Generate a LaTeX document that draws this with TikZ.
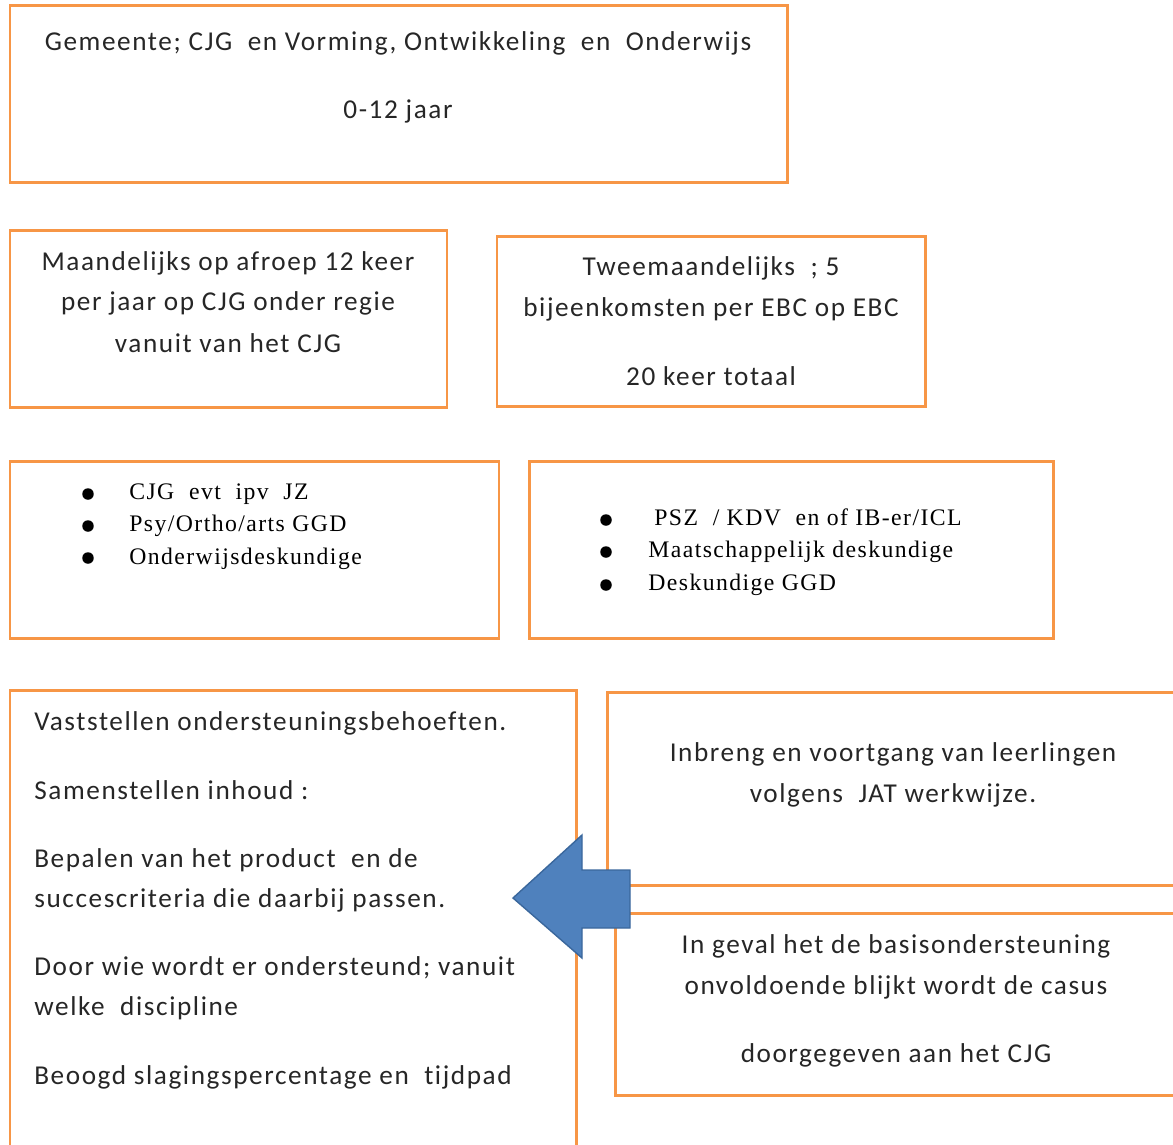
\documentclass[tikz,border=0pt]{standalone}
\usepackage{fontspec}
\setmainfont[LetterSpace=5.8,Ligatures=NoCommon]{Carlito}
\newfontfamily\opsomfont[LetterSpace=6]{Liberation Serif}
\definecolor{oranje}{HTML}{F79646}
\definecolor{pijlblauw}{HTML}{4F81BD}
\definecolor{pijlrand}{HTML}{3A679C}
\begin{document}
\begin{tikzpicture}[x=0.02cm,y=-0.02cm,
        kader/.style={draw=oranje,line width=1.7pt},
        regel/.style={anchor=mid,inner sep=0pt,text=black!85,font=\fontsize{15.5}{18}\selectfont},
        regellinks/.style={regel,anchor=mid west},
        opsom/.style={anchor=mid west,inner sep=0pt,font=\opsomfont\fontsize{13.5}{16}\selectfont},
        stip/.style={circle,fill=black,inner sep=0pt,minimum size=0.23cm}]
        \useasboundingbox (0,0) rectangle (1173,1144);
        \clip (0,0) rectangle (1173,1144);
        % kaders
        \draw[kader](10,5) rectangle (787,182);
        \draw[kader](10,230) rectangle (447,407);
        \draw[kader](497,236) rectangle (925,406);
        \draw[kader](10,461) rectangle (499,638);
        \draw[kader](529,461) rectangle (1053,638);
        \draw[kader](10,690) rectangle (576,1150);
        \draw[kader](607,692) rectangle (1180,885);
        \draw[kader](615,913) rectangle (1180,1095);
        % gemeente
        \node[regel] (gem1) at (398,46) {Gemeente; CJG\ \ en Vorming, Ontwikkeling\ \ en\ \ Onderwijs};
        \node[regel] (gem2) at (398,114) {0-12 jaar};
        % CJG maandelijks
        \node[regel] (cjg1) at (228,266) {Maandelijks op afroep 12 keer};
        \node[regel] (cjg2) at (228,306) {per jaar op CJG onder regie};
        \node[regel] (cjg3) at (228,348) {vanuit van het CJG};
        % EBC tweemaandelijks
        \node[regel] (ebc1) at (711,271) {Tweemaandelijks\ \ ; 5};
        \node[regel] (ebc2) at (711,312) {bijeenkomsten per EBC op EBC};
        \node[regel] (ebc3) at (711,381) {20 keer totaal};
        % deelnemers links
        \node[stip] (dl1) at (88,494) {};
        \node[stip] (dl2) at (88,526) {};
        \node[stip] (dl3) at (88,558) {};
        \node[opsom] (tl1) at (129,495) {CJG\ \ evt\ \ ipv\ \ JZ};
        \node[opsom] (tl2) at (129,527) {Psy/Ortho/arts GGD};
        \node[opsom] (tl3) at (129,560) {Onderwijsdeskundige};
        % deelnemers rechts
        \node[stip] (dr1) at (606,520) {};
        \node[stip] (dr2) at (606,552) {};
        \node[stip] (dr3) at (606,585) {};
        \node[opsom] (tr1) at (654,521) {PSZ\ \ / KDV\ \ en of IB-er/ICL};
        \node[opsom] (tr2) at (648,553) {Maatschappelijk deskundige};
        \node[opsom] (tr3) at (648,586) {Deskundige GGD};
        % ondersteuning
        \node[regellinks] (ond1) at (34,726) {Vaststellen ondersteuningsbehoeften.};
        \node[regellinks] (ond2) at (34,795) {Samenstellen inhoud :};
        \node[regellinks] (ond3) at (34,863) {Bepalen van het product\ \ en de};
        \node[regellinks] (ond4) at (34,903) {succescriteria die daarbij passen.};
        \node[regellinks] (ond5) at (34,971) {Door wie wordt er ondersteund; vanuit};
        \node[regellinks] (ond6) at (34,1011) {welke\ \ discipline};
        \node[regellinks] (ond7) at (34,1080) {Beoogd slagingspercentage en\ \ tijdpad};
        % JAT
        \node[regel] (jat1) at (893,757) {Inbreng en voortgang van leerlingen};
        \node[regel] (jat2) at (893,798) {volgens\ \ JAT werkwijze.};
        \node[regel] (cas1) at (896,949) {In geval het de basisondersteuning};
        \node[regel] (cas2) at (896,990) {onvoldoende blijkt wordt de casus};
        \node[regel] (cas3) at (896,1058) {doorgegeven aan het CJG};
        % pijl
        \draw[fill=pijlblauw,draw=pijlrand,line width=0.8pt](513,898)--(582,835)--(582,870)--(630,870)--(630,928)--(582,928)--(582,958)--cycle;
    \end{tikzpicture}
\end{document}
